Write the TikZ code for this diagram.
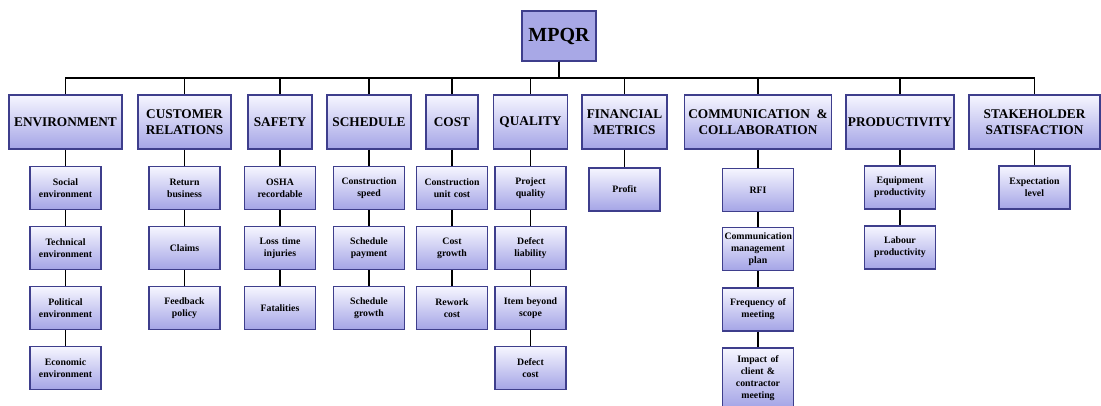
\documentclass[tikz,border=0pt]{standalone}
\usepackage{fontspec}
\setmainfont{Liberation Serif}
\definecolor{boxline}{RGB}{62,62,140}
\definecolor{boxtop}{RGB}{246,246,255}
\definecolor{boxbot}{RGB}{164,164,230}
\definecolor{rootfill}{RGB}{168,168,230}
\tikzset{
  box/.style={draw=boxline, line width=1.4pt, top color=boxtop, bottom color=boxbot, align=center, inner sep=2pt},
  root/.style={draw=boxline, line width=1.4pt, fill=rootfill, minimum width=74pt, minimum height=50pt, font=\fontsize{20}{24}\selectfont\bfseries},
  cat/.style={box, minimum width=#1, minimum height=54pt, font=\fontsize{13.3}{15.8}\selectfont\bfseries},
  sub/.style={box, text width=67pt, minimum height=43pt, font=\fontsize{9.8}{11.8}\selectfont\bfseries},
  link/.style={line width=1.6pt}
}

\begin{document}
\begin{tikzpicture}[x=1pt, y=-1pt]
\useasboundingbox (0,0) rectangle (1101,405);
\clip (0,0) rectangle (1101,405);
\node[root] (M) at (559,36) {MPQR};
\node[cat=113pt] (env) at (65.5,122) {ENVIRONMENT};
\node[cat=93pt] (cus) at (184.5,122) {CUSTOMER\\RELATIONS};
\node[cat=64pt] (saf) at (280,122) {SAFETY};
\node[cat=84pt] (sch) at (369,122) {SCHEDULE};
\node[cat=52pt] (cst) at (452,122) {COST};
\node[cat=74pt] (qua) at (530.5,122) {QUALITY};
\node[cat=85pt] (fin) at (624.5,122) {FINANCIAL\\METRICS};
\node[cat=147pt] (com) at (758,122) {COMMUNICATION \ \&\\COLLABORATION};
\node[cat=108pt] (pro) at (900,122) {PRODUCTIVITY};
\node[cat=131pt] (sta) at (1034.5,122) {STAKEHOLDER\\SATISFACTION};
\node[sub] (env1) at (65.5,188) {Social\\environment};
\node[sub] (env2) at (65.5,248) {Technical\\environment};
\node[sub] (env3) at (65.5,308) {Political\\environment};
\node[sub] (env4) at (65.5,368) {Economic\\environment};
\node[sub] (cus1) at (184.5,188) {Return\\business};
\node[sub] (cus2) at (184.5,248) {Claims};
\node[sub] (cus3) at (184.5,308) {Feedback\\policy};
\node[sub] (saf1) at (280,188) {OSHA\\recordable};
\node[sub] (saf2) at (280,248) {Loss time\\injuries};
\node[sub] (saf3) at (280,308) {Fatalities};
\node[sub] (sch1) at (369,188) {Construction\\speed};
\node[sub] (sch2) at (369,248) {Schedule\\payment};
\node[sub] (sch3) at (369,308) {Schedule\\growth};
\node[sub] (cst1) at (452,188) {Construction\\unit cost};
\node[sub] (cst2) at (452,248) {Cost\\growth};
\node[sub] (cst3) at (452,308) {Rework\\cost};
\node[sub] (qua1) at (530.5,188) {Project\\quality};
\node[sub] (qua2) at (530.5,248) {Defect\\liability};
\node[sub] (qua3) at (530.5,308) {Item beyond\\scope};
\node[sub] (qua4) at (530.5,368) {Defect\\cost};
\node[sub] (fin1) at (624.5,189.5) {Profit};
\node[sub] (com1) at (758,190) {RFI};
\node[sub] (com2) at (758,249) {Communication\\management\\plan};
\node[sub] (com3) at (758,309.5) {Frequency of\\meeting};
\node[sub, minimum height=60pt] (com4) at (758,378) {Impact of\\client \&\\contractor\\meeting};
\node[sub] (pro1) at (900,187.5) {Equipment\\productivity};
\node[sub] (pro2) at (900,247.5) {Labour\\productivity};
\node[sub] (sta1) at (1034.5,187.5) {Expectation\\level};
\foreach \c in {env,cus,saf,sch,cst,qua,fin,com,pro,sta}
  \draw[link] (M.south) -- ++(0,16) -| (\c.north);
\draw[link] (env) -- (env1) -- (env2) -- (env3) -- (env4);
\draw[link] (cus) -- (cus1) -- (cus2) -- (cus3);
\draw[link] (saf) -- (saf1) -- (saf2) -- (saf3);
\draw[link] (sch) -- (sch1) -- (sch2) -- (sch3);
\draw[link] (cst) -- (cst1) -- (cst2) -- (cst3);
\draw[link] (qua) -- (qua1) -- (qua2) -- (qua3) -- (qua4);
\draw[link] (fin) -- (fin1);
\draw[link] (com) -- (com1) -- (com2) -- (com3) -- (com4);
\draw[link] (pro) -- (pro1) -- (pro2);
\draw[link] (sta) -- (sta1);
\end{tikzpicture}
\end{document}
